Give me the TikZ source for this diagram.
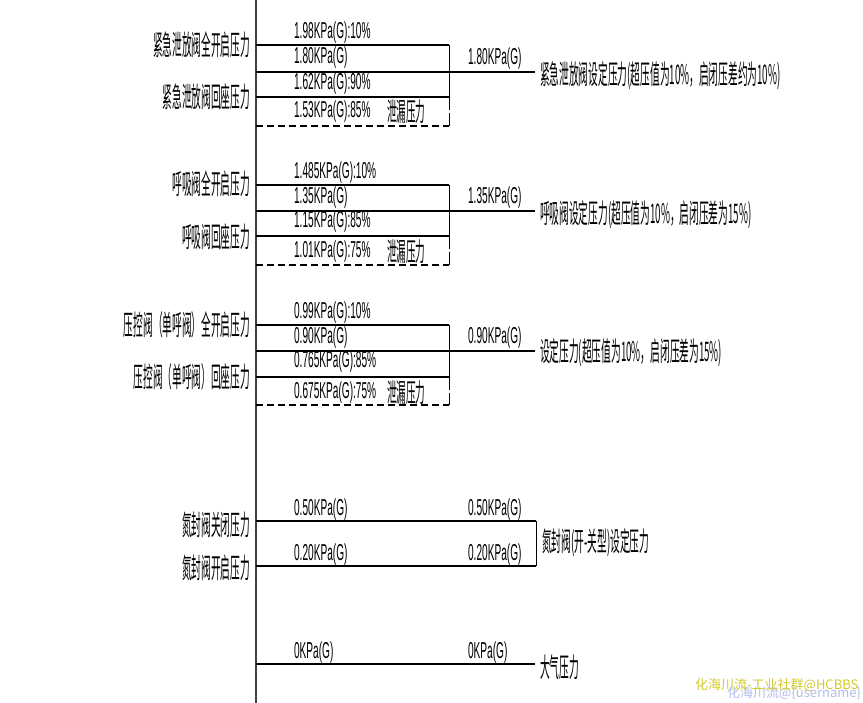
\documentclass[tikz,border=0pt]{standalone}
\usepackage{fontspec}
\newfontfamily\cjkfont{Noto Sans CJK SC}
\newfontfamily\cadfont{Liberation Sans}
\tikzset{
  valtext/.style={font=\cadfont\fontsize{23}{24}\selectfont, xscale=0.44, inner sep=0pt, anchor=west},
  lefttext/.style={font=\cjkfont\fontsize{28}{30}\selectfont, xscale=0.346, inner sep=0pt, anchor=east},
  desctext/.style={font=\cjkfont\fontsize{27}{29}\selectfont, xscale=0.36, inner sep=0pt, anchor=west},
  leaktext/.style={font=\cjkfont\fontsize{26}{28}\selectfont, xscale=0.37, inner sep=0pt, anchor=west},
  marktext/.style={font=\cjkfont\fontsize{13}{14}\selectfont, anchor=west, inner sep=0pt},
  level/.style={line width=1.6pt},
  riser/.style={line width=0.9pt},
  leakline/.style={line width=1.2pt, dash pattern=on 7pt off 4pt},
}
\begin{document}
\begin{tikzpicture}[x=1pt,y=-1pt]
      \useasboundingbox (0,0) rectangle (863,703);
      \draw[line width=1.2pt, black!75] (256,0) -- (256,703);
      \begin{scope}
        \draw[level] (256,45)--(449,45);
        \draw[level] (256,72)--(535,72);
        \draw[level] (256,97)--(449,97);
        \draw[leakline] (256,126)--(449,126);
        \draw[riser] (449,45)--(449,97);
        \draw[riser,dash pattern=on 13pt off 3pt] (449,97)--(449,126);

        \node[valtext] (ev1) at (294,33) {1.98KPa(G):10\%};
        \node[valtext] (ev2) at (294,58) {1.80KPa(G)};
        \node[valtext] (ev3) at (294,84) {1.62KPa(G):90\%};
        \node[valtext] (ev4) at (294,112) {1.53KPa(G):85\%};
        \node[leaktext] (evleak) at (387,112) {泄漏压力};
        \node[lefttext] (evopen) at (250,45) {紧急泄放阀全开启压力};
        \node[lefttext] (evseat) at (250,97) {紧急泄放阀回座压力};
        \node[valtext] (evset) at (468,59) {1.80KPa(G)};
        \node[desctext] (evdesc) at (540,76) {紧急泄放阀设定压力(超压值为10\%，启闭压差约为10\%)};
      \end{scope}
      \begin{scope}[yshift=-140pt]
        \draw[level] (256,45)--(449,45);
        \draw[level] (256,71)--(535,71);
        \draw[level] (256,96)--(449,96);
        \draw[leakline] (256,125)--(449,125);
        \draw[riser] (449,45)--(449,96);
        \draw[riser,dash pattern=on 13pt off 3pt] (449,96)--(449,125);

        \node[valtext] (bv1) at (294,33) {1.485KPa(G):10\%};
        \node[valtext] (bv2) at (294,58) {1.35KPa(G)};
        \node[valtext] (bv3) at (294,82) {1.15KPa(G):85\%};
        \node[valtext] (bv4) at (294,112) {1.01KPa(G):75\%};
        \node[leaktext] (bvleak) at (387,112) {泄漏压力};
        \node[lefttext] (bvopen) at (250,44) {呼吸阀全开启压力};
        \node[lefttext] (bvseat) at (250,97) {呼吸阀回座压力};
        \node[valtext] (bvset) at (468,58) {1.35KPa(G)};
        \node[desctext] (bvdesc) at (540,75) {呼吸阀设定压力(超压值为10\%，启闭压差为15\%)};
      \end{scope}
      \begin{scope}[yshift=-280pt]
        \draw[level] (256,45)--(449,45);
        \draw[level] (256,71)--(535,71);
        \draw[level] (256,97)--(449,97);
        \draw[leakline] (256,125)--(449,125);
        \draw[riser] (449,45)--(449,97);
        \draw[riser,dash pattern=on 13pt off 3pt] (449,97)--(449,125);

        \node[valtext] (pv1) at (294,33) {0.99KPa(G):10\%};
        \node[valtext] (pv2) at (294,58) {0.90KPa(G)};
        \node[valtext] (pv3) at (294,82) {0.765KPa(G):85\%};
        \node[valtext] (pv4) at (294,113) {0.675KPa(G):75\%};
        \node[leaktext] (pvleak) at (387,113) {泄漏压力};
        \node[lefttext] (pvopen) at (250,45) {压控阀（单呼阀）全开启压力};
        \node[lefttext] (pvseat) at (250,97) {压控阀（单呼阀）回座压力};
        \node[valtext] (pvset) at (468,58) {0.90KPa(G)};
        \node[desctext] (pvdesc) at (540,73) {设定压力(超压值为10\%，启闭压差为15\%)};
      \end{scope}
      \begin{scope}
        \draw[level] (256,521)--(536,521);
        \draw[level] (256,566)--(536,566);
        \draw[riser] (536,521)--(536,566);

        \node[valtext] (ns1) at (294,510) {0.50KPa(G)};
        \node[valtext] (ns2) at (468,510) {0.50KPa(G)};
        \node[valtext] (ns3) at (294,555) {0.20KPa(G)};
        \node[valtext] (ns4) at (468,555) {0.20KPa(G)};
        \node[lefttext] (nsclose) at (250,525) {氮封阀关闭压力};
        \node[lefttext] (nsopen) at (250,568) {氮封阀开启压力};
        \node[desctext] (nsdesc) at (542,543) {氮封阀(开-关型)设定压力};
      \end{scope}
      \begin{scope}
        \draw[level] (256,664)--(535,664);

        \node[valtext] (at1) at (294,653) {0KPa(G)};
        \node[valtext] (at2) at (468,653) {0KPa(G)};
        \node[desctext] (atdesc) at (540,667) {大气压力};
      \end{scope}
      \node[marktext, text=cyan!35!blue!30] (wmb) at (727,693) {化海川流@\{username\}};
      \node[marktext, text=yellow!80!black] (wm) at (695,685) {化海川流-工业社群@HCBBS};
    \end{tikzpicture}
\end{document}
